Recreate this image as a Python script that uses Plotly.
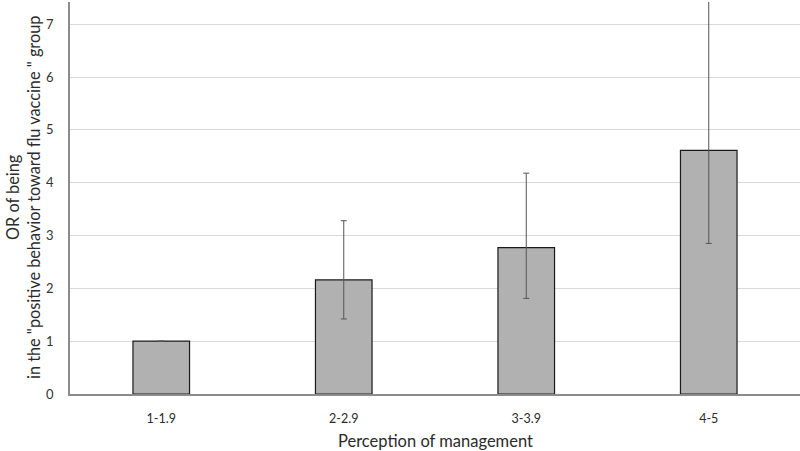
import plotly.graph_objects as go

categories = ["1-1.9", "2-2.9", "3-3.9", "4-5"]
odds_ratio = [1.0, 2.16, 2.77, 4.61]
ci_low = [1.0, 1.42, 1.81, 2.85]
ci_high = [1.0, 3.28, 4.18, 7.43]
y_ticks = [0, 1, 2, 3, 4, 5, 6, 7]

err_plus = [h - v for h, v in zip(ci_high, odds_ratio)]
err_minus = [v - l for v, l in zip(odds_ratio, ci_low)]
err_visible = [h > l for h, l in zip(ci_high, ci_low)]

FONT = "Lato, Open Sans, sans-serif"

fig = go.Figure()
fig.add_trace(go.Bar(
    x=categories,
    y=odds_ratio,
    marker=dict(color="#b1b1b1", line=dict(color="#1a1a1a", width=1.2)),
    error_y=dict(
        type="data",
        array=[p if v else 0 for p, v in zip(err_plus, err_visible)],
        arrayminus=[m if v else 0 for m, v in zip(err_minus, err_visible)],
        color="#555555",
        thickness=1,
        width=3,
        visible=True,
    ),
    hoverinfo="skip",
))

fig.update_layout(
    width=800,
    height=451,
    margin=dict(l=70, r=0, t=2, b=57),
    paper_bgcolor="white",
    plot_bgcolor="white",
    bargap=0.69,
    showlegend=False,
    font=dict(family=FONT, color="#404040"),
    xaxis=dict(
        showgrid=False,
        showline=True,
        linecolor="#8c8c8c",
        linewidth=1.5,
        ticks="",
        tickfont=dict(size=12.5, color="#2b2b2b"),
        ticklabelstandoff=12,
    ),
    yaxis=dict(
        range=[0, 7.42],
        tickvals=y_ticks,
        showgrid=True,
        gridcolor="#d9d9d9",
        gridwidth=1,
        zeroline=False,
        showline=True,
        linecolor="#8c8c8c",
        linewidth=1.5,
        ticks="",
        tickfont=dict(size=13, color="#333333"),
        ticklabelstandoff=12,
    ),
    annotations=[
        dict(
            text='OR of being<br>in the "positive behavior toward flu vaccine " group',
            xref="paper", yref="paper", x=0, y=0.5,
            xanchor="center", yanchor="middle",
            xshift=-47, textangle=-90, showarrow=False,
            font=dict(size=16.3, color="#2b2b2b"),
        ),
        dict(
            text="Perception of management",
            xref="paper", yref="paper", x=0.5, y=0,
            xanchor="center", yanchor="middle",
            yshift=-47, showarrow=False,
            font=dict(size=16.5, color="#2b2b2b"),
        ),
    ],
)

fig.write_html(
    "out.html",
    config={"displayModeBar": False},
    post_script="document.body.style.margin='0';document.body.style.overflow='hidden';",
)
